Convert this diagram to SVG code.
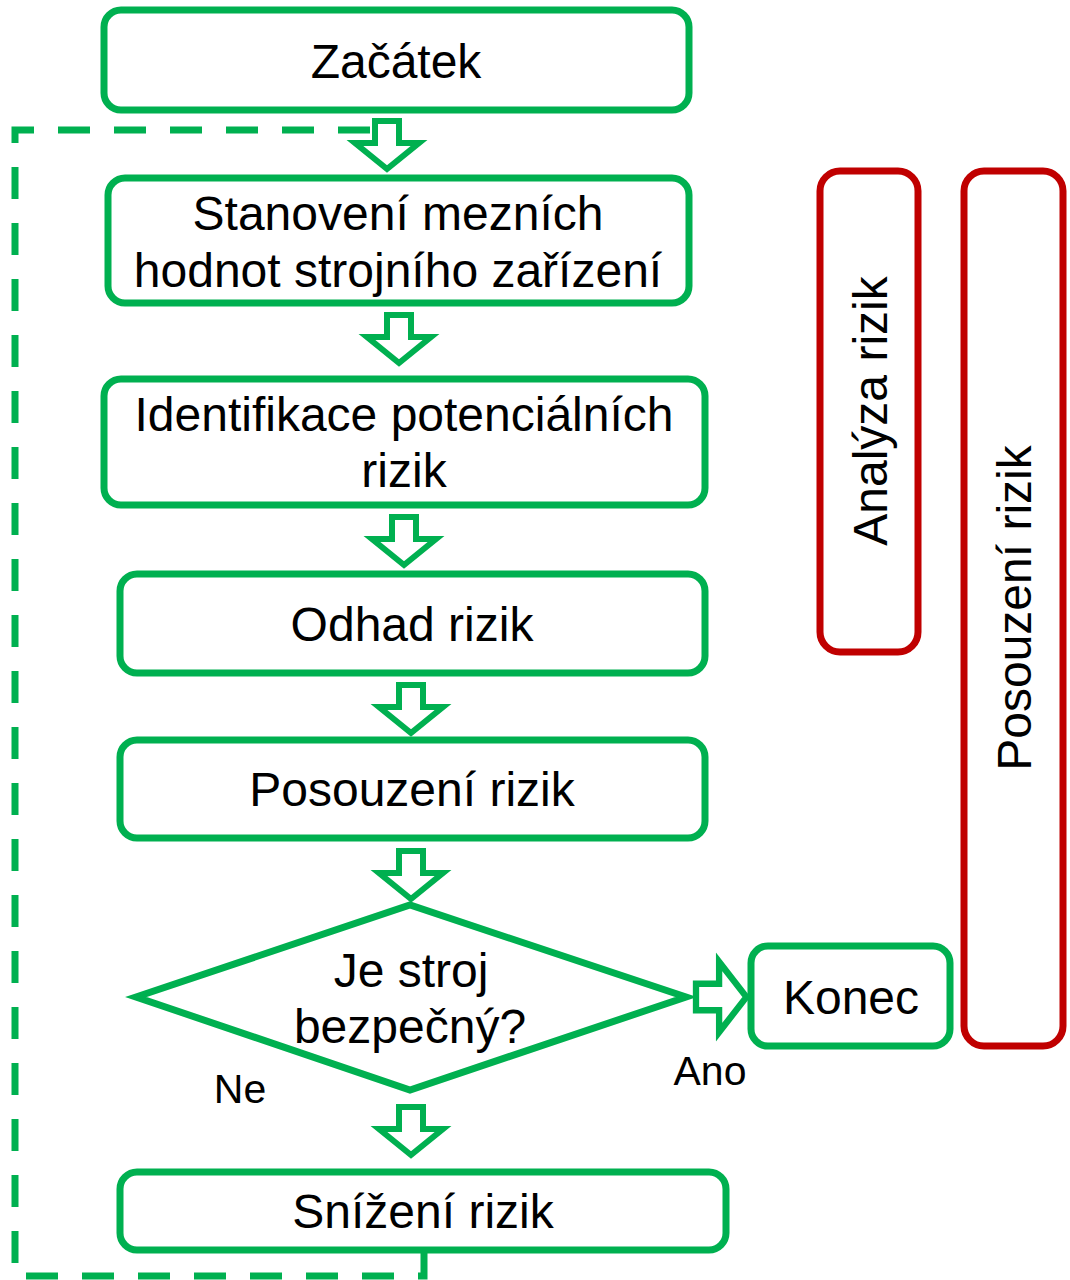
<svg xmlns="http://www.w3.org/2000/svg" width="1070" height="1280" viewBox="0 0 1070 1280">
<style>
.g{fill:#fff;stroke:#00B050;stroke-width:7}
.r{fill:#fff;stroke:#C00000;stroke-width:7}
.t{font-family:"Liberation Sans",Arial,sans-serif;font-size:48px;fill:#000;text-anchor:middle}
.s{font-family:"Liberation Sans",Arial,sans-serif;font-size:41px;fill:#000;text-anchor:middle}
.arr{fill:#fff;stroke:#00B050;stroke-width:6;stroke-linejoin:miter}
</style>
<defs>
<path id="da" d="M-12,0 H12 V22 H32 L0,48 L-32,22 H-12 Z"/>
</defs>
<rect width="1070" height="1280" fill="#fff"/>
<g id="connectors">
<path d="M424,1250 V1276 H15 V130 H372" fill="none" stroke="#00B050" stroke-width="7" stroke-dasharray="32 24"/>
<use href="#da" class="arr" transform="translate(387,121)"/>
<use href="#da" class="arr" transform="translate(399,315)"/>
<use href="#da" class="arr" transform="translate(404,517)"/>
<use href="#da" class="arr" transform="translate(411,685)"/>
<use href="#da" class="arr" transform="translate(411,851)"/>
<use href="#da" class="arr" transform="translate(411,1107)"/>
<use href="#da" class="arr" transform="translate(696,997) rotate(-90) scale(1.1,1.05)"/>
</g>
<g id="start"><rect class="g" x="104" y="10" width="585" height="100" rx="17"/><text class="t" x="396" y="78">Začátek</text></g>
<g id="limits"><rect class="g" x="108" y="178" width="581" height="125" rx="17"/><text class="t" x="398" y="230">Stanovení mezních</text><text class="t" x="398" y="287">hodnot strojního zařízení</text></g>
<g id="identify"><rect class="g" x="104" y="379" width="601" height="126" rx="17"/><text class="t" x="404" y="431">Identifikace potenciálních</text><text class="t" x="404" y="487">rizik</text></g>
<g id="estimate"><rect class="g" x="120" y="574" width="585" height="99" rx="17"/><text class="t" x="412" y="641">Odhad rizik</text></g>
<g id="evaluate"><rect class="g" x="120" y="740" width="585" height="98" rx="17"/><text class="t" x="412" y="806">Posouzení rizik</text></g>
<g id="decision"><polygon class="g" stroke-width="6" points="136,997 410,905 686,997 410,1090"/><text class="t" x="411" y="987">Je stroj</text><text class="t" x="410" y="1043">bezpečný?</text></g>
<g id="end"><rect class="g" x="751" y="946" width="199" height="100" rx="17"/><text class="t" x="851" y="1014">Konec</text></g>
<g id="reduce"><rect class="g" x="120" y="1172" width="606" height="78" rx="17"/><text class="t" x="423" y="1228">Snížení rizik</text></g>
<g id="labels"><text class="s" x="240" y="1103">Ne</text><text class="s" x="710" y="1085">Ano</text></g>
<g id="analysis"><rect class="r" x="820" y="171" width="98" height="481" rx="20"/><text class="t" transform="translate(887,411) rotate(-90)">Analýza rizik</text></g>
<g id="assessment"><rect class="r" x="964" y="171" width="99" height="875" rx="20"/><text class="t" transform="translate(1031,608) rotate(-90)">Posouzení rizik</text></g>
</svg>
